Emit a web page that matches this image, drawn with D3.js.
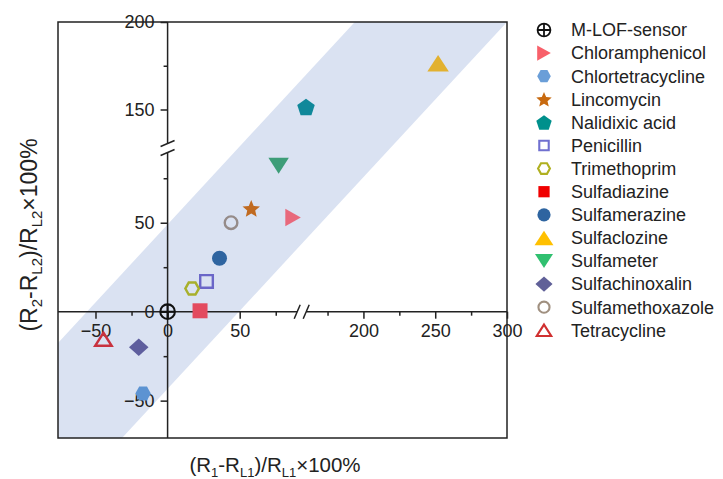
<!DOCTYPE html>
<html>
<head>
<meta charset="utf-8">
<script src="https://cdn.jsdelivr.net/npm/d3@7"></script>
<style>
  html, body { margin: 0; padding: 0; background: #fff; }
  svg { display: block; font-family: "Liberation Sans", Arial, sans-serif; }
</style>
</head>
<body>
<svg id="chart" width="723" height="479"></svg>
<script>
// Response of each analyte on the two sensor channels (%)
const analytes = ["M-LOF-sensor", "Chloramphenicol", "Chlortetracycline", "Lincomycin",
  "Nalidixic acid", "Penicillin", "Trimethoprim", "Sulfadiazine", "Sulfamerazine",
  "Sulfaclozine", "Sulfameter", "Sulfachinoxalin", "Sulfamethoxazole", "Tetracycline"];
const response1 = [0, 87, -17, 58, 160, 27, 17, 22.5, 36, 252, 77, -20, 44, -44.5];
const response2 = [0, 53, -46, 58, 151.5, 17, 13, 0.5, 30, 176.5, 82, -20, 50, -15.5];
const shapes = ["cross", "right", "hexagon", "star", "pentagon", "square", "hexagon",
  "square", "circle", "up", "down", "diamond", "circle", "up"];
const hollow = [true, false, false, false, false, true, true, false, false, false, false, false, true, true];
const markerColors = ["#111111", "#e8697c", "#5c93d2", "#c06a20", "#10889a", "#6a66c8",
  "#a8b02c", "#e34a5f", "#2e64a0", "#e2b130", "#3d9d78", "#5e5e9e", "#958b89", "#c8323f"];
const legendColors = ["#111111", "#f8606a", "#6a9ed8", "#c86a10", "#00908c", "#7070d0",
  "#b0b020", "#f00000", "#2e64a0", "#ffc000", "#30c070", "#606098", "#a09080", "#d03030"];

// Broken axes: [low segment start, low end, high start, high end]
const xDomain = [-76, 93, 157, 300];
const yDomain = [-71, 92, 128, 200];
const xMajor = [-50, 0, 50, 200, 250, 300];
const xMinor = [-25, 25, 75, 175, 225, 275];
const yMajor = [-50, 0, 50, 150, 200];
const yMinor = [-25, 25, 75, 175];

// Tolerance band (data units), corners in drawing order
const bandX = [-76, -31.6, 300, 194, -76];
const bandY = [-71, -71, 200, 200, -17.6];

const svg = d3.select("#chart");
const plotLeft = 58, plotRight = 507, plotTop = 22, plotBottom = 438;
const xBreak = 301.7, yBreak = 148;

const x = d3.scaleLinear().domain(xDomain).range([plotLeft, xBreak, xBreak, plotRight]);
const y = d3.scaleLinear().domain(yDomain).range([plotBottom, yBreak, yBreak, plotTop]);

const ink = "#222";

// band
svg.append("path")
  .attr("d", d3.line()(bandX.map((v, i) => [x(v), y(bandY[i])])) + "Z")
  .attr("fill", "#dae2f2");

// frame
svg.append("rect")
  .attr("x", plotLeft).attr("y", plotTop)
  .attr("width", plotRight - plotLeft).attr("height", plotBottom - plotTop)
  .attr("fill", "none").attr("stroke", ink).attr("stroke-width", 1.5);

const x0 = x(0), y0 = y(0);

// axis lines with break gaps
const gap = 4.5;
const axisG = svg.append("g").attr("stroke", ink).attr("stroke-width", 1.5).attr("fill", "none");
axisG.append("line").attr("x1", plotLeft).attr("x2", xBreak - gap).attr("y1", y0).attr("y2", y0);
axisG.append("line").attr("x1", xBreak + gap).attr("x2", plotRight).attr("y1", y0).attr("y2", y0);
axisG.append("line").attr("x1", x0).attr("x2", x0).attr("y1", plotBottom).attr("y2", yBreak + gap);
axisG.append("line").attr("x1", x0).attr("x2", x0).attr("y1", yBreak - gap).attr("y2", plotTop);
// break marks
[-gap, gap].forEach(d => {
  axisG.append("line")
    .attr("x1", xBreak + d - 3).attr("y1", y0 + 7)
    .attr("x2", xBreak + d + 3).attr("y2", y0 - 7);
  axisG.append("line")
    .attr("x1", x0 - 7).attr("y1", yBreak + d + 3)
    .attr("x2", x0 + 7).attr("y2", yBreak + d - 3);
});

// ticks via d3 axes
function styleAxis(g) {
  g.select(".domain").remove();
  g.selectAll(".tick line").attr("stroke", ink).attr("stroke-width", 1.5);
  g.selectAll(".tick text").attr("fill", ink).attr("font-size", 18)
    .attr("font-family", "Liberation Sans, Arial, sans-serif");
}
svg.append("g").attr("transform", `translate(0,${y0})`)
  .call(d3.axisBottom(x).tickValues(xMajor).tickSize(7).tickPadding(6).tickFormat(d3.format("d")))
  .call(styleAxis);
svg.append("g").attr("transform", `translate(0,${y0})`)
  .call(d3.axisBottom(x).tickValues(xMinor).tickSize(4).tickFormat(""))
  .call(styleAxis);
svg.append("g").attr("transform", `translate(${x0},0)`)
  .call(d3.axisLeft(y).tickValues(yMajor).tickSize(7).tickPadding(6).tickFormat(d3.format("d")))
  .call(styleAxis);
svg.append("g").attr("transform", `translate(${x0},0)`)
  .call(d3.axisLeft(y).tickValues(yMinor).tickSize(4).tickFormat(""))
  .call(styleAxis);

// regular polygon fitted into a w x h box centred on the origin
function poly(n, rot, w, h) {
  const p = d3.range(n).map(i => {
    const a = rot + i * 2 * Math.PI / n;
    return [Math.cos(a), Math.sin(a)];
  });
  const xs = p.map(q => q[0]), ys = p.map(q => q[1]);
  const x1 = d3.min(xs), x2 = d3.max(xs), y1 = d3.min(ys), y2 = d3.max(ys);
  return "M" + p.map(q => [
    ((q[0] - (x1 + x2) / 2) / (x2 - x1) * w).toFixed(2),
    ((q[1] - (y1 + y2) / 2) / (y2 - y1) * h).toFixed(2)
  ].join(",")).join("L") + "Z";
}
function shapePath(s, k, isHollow) {
  switch (s) {
    case "cross": {
      const r = 7.3 * k;
      return d3.symbol(d3.symbolCircle, Math.PI * r * r)();
    }
    case "circle": {
      const r = (isHollow ? 6.3 : 7.5) * k;
      return d3.symbol(d3.symbolCircle, Math.PI * r * r)();
    }
    case "square": {
      const r = (isHollow ? 6.3 : 7.5) * k;
      return `M${-r},${-r}H${r}V${r}H${-r}Z`;
    }
    case "diamond": return poly(4, -Math.PI / 2, 19.5 * k, 17.5 * k);
    case "up": return isHollow ? poly(3, -Math.PI / 2, 16.5 * k, 13 * k)
                               : poly(3, -Math.PI / 2, 21.5 * k, 16.5 * k);
    case "down": return poly(3, Math.PI / 2, 20.5 * k, 16 * k);
    case "right": return poly(3, 0, 15.5 * k, 17.5 * k);
    case "pentagon": return poly(5, -Math.PI / 2, 17.5 * k, 16.5 * k);
    case "hexagon": return isHollow ? poly(6, 0, 13.5 * k, 12 * k) : poly(6, 0, 15.5 * k, 14 * k);
    case "star": {
      const p = d3.range(10).map(i => {
        const rr = (i % 2 ? 4.2 : 9.2) * k;
        const a = -Math.PI / 2 + i * Math.PI / 5;
        return [rr * Math.cos(a), rr * Math.sin(a) + 0.8 * k];
      });
      return "M" + p.map(q => q.map(v => v.toFixed(2)).join(",")).join("L") + "Z";
    }
  }
}
function drawMarker(g, i, k, color, sw) {
  const isCross = shapes[i] === "cross";
  const w = isCross ? sw * 0.85 : sw;
  const p = g.append("path").attr("d", shapePath(shapes[i], k, hollow[i]));
  if (hollow[i]) {
    p.attr("fill", "none").attr("stroke", color).attr("stroke-width", w);
  } else {
    p.attr("fill", color).attr("stroke", "none");
  }
  if (isCross) {
    const r = 7.3 * k;
    g.append("path").attr("d", `M${-r},0H${r}M0,${-r}V${r}`)
      .attr("stroke", color).attr("stroke-width", w);
  }
}

// points
const pts = svg.append("g");
analytes.forEach((name, i) => {
  const g = pts.append("g").attr("transform", `translate(${x(response1[i])},${y(response2[i])})`);
  drawMarker(g, i, 1, markerColors[i], 2.4);
});

// legend
const legend = svg.append("g");
analytes.forEach((name, i) => {
  const ly = 30 + i * 23.1;
  const g = legend.append("g").attr("transform", `translate(544,${ly})`);
  const k = shapes[i] === "square" ? 0.75 : 0.88;
  drawMarker(g, i, k, legendColors[i], 2.1);
  legend.append("text").attr("x", 571).attr("y", ly).attr("dy", "0.35em")
    .attr("font-size", 18).attr("fill", ink).text(name);
});

// axis titles with subscripts
function title(sel, parts, size) {
  const subSize = Math.round(size * 0.65), shift = Math.round(size * 0.22);
  let down = false;
  parts.forEach(([t, sub]) => {
    const ts = sel.append("tspan").text(t);
    if (sub && !down) { ts.attr("font-size", subSize).attr("dy", shift); down = true; }
    else if (sub) { ts.attr("font-size", subSize); }
    else if (down) { ts.attr("dy", -shift); down = false; }
  });
}
const xt = svg.append("text").attr("x", 275).attr("y", 472)
  .attr("text-anchor", "middle").attr("font-size", 20.5).attr("fill", ink);
title(xt, [["(R"], ["1", 1], ["-R"], ["L1", 1], [")/R"], ["L1", 1], ["\u00d7100%"]], 20.5);

const yt = svg.append("text").attr("transform", "translate(37,235) rotate(-90)")
  .attr("text-anchor", "middle").attr("font-size", 23).attr("fill", ink);
title(yt, [["(R"], ["2", 1], ["-R"], ["L2", 1], [")/R"], ["L2", 1], ["\u00d7100%"]], 23);
</script>
</body>
</html>
